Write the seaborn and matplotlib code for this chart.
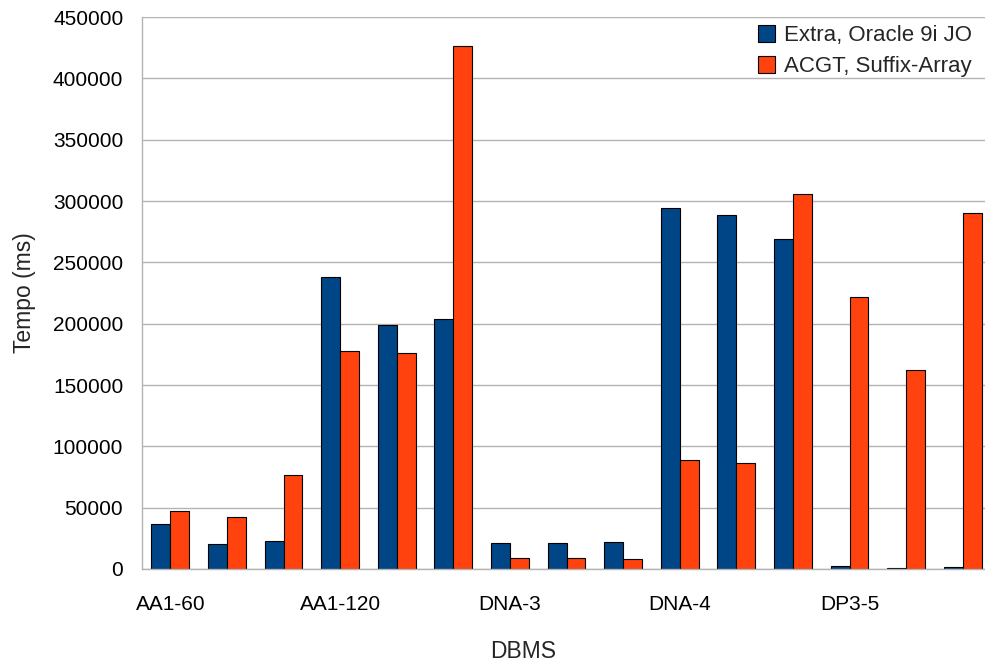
import matplotlib
matplotlib.use("Agg")
import matplotlib.pyplot as plt
import seaborn as sns
import pandas as pd

# Benchmark runs: five datasets, three runs each
group_labels = ["AA1-60", "AA1-120", "DNA-3", "DNA-4", "DP3-5"]
runs_per_group = 3
series_names = ["Extra, Oracle 9i JO", "ACGT, Suffix-Array"]
extra_oracle = [36700, 20600, 22800, 237800, 198700, 203800,
                21500, 21500, 21700, 294300, 288300, 269000,
                2200, 800, 1600]
acgt_suffix = [47500, 42100, 76600, 178000, 176300, 426400,
               8700, 8700, 8150, 89000, 86400, 305700,
               221700, 162000, 290200]
y_ticks = [0, 50000, 100000, 150000, 200000, 250000, 300000, 350000, 400000, 450000]

n_runs = len(extra_oracle)
df = pd.DataFrame({
    "run": list(range(n_runs)) * 2,
    "tempo": extra_oracle + acgt_suffix,
    "serie": [series_names[0]] * n_runs + [series_names[1]] * n_runs,
})

sns.set_theme(style="white")
plt.rcParams["font.family"] = ["Liberation Sans", "DejaVu Sans"]

W, H = 985, 669
fig = plt.figure(figsize=(W / 100, H / 100), dpi=100)
ax = fig.add_axes([142 / W, 1 - 569 / H, (991 - 142) / W, (569 - 17) / H])

grid_c = "#b3b3b3"
ax.set_axisbelow(True)
ax.yaxis.grid(True, color=grid_c, linewidth=1.0)

sns.barplot(data=df, x="run", y="tempo", hue="serie", hue_order=series_names,
            palette=["#004586", "#ff420e"], width=0.67, edgecolor="black",
            linewidth=0.8, ax=ax, saturation=1.0)

ax.set_xlim(-0.5, n_runs - 0.5)
ax.set_ylim(0, 450000)
ax.set_yticks(y_ticks)
ax.set_yticklabels([str(v) for v in y_ticks])

ax.set_xticks(range(n_runs))
xt = []
for i in range(n_runs):
    xt.append(group_labels[i // runs_per_group] if i % runs_per_group == 0 else "")
ax.set_xticklabels(xt)

ax.tick_params(axis="x", direction="out", length=8, width=1, color=grid_c,
               pad=11, labelsize=15, labelcolor="black")
ax.tick_params(axis="y", direction="out", length=6.5, width=1, color=grid_c,
               pad=7, labelsize=15, labelcolor="black")

for s in ["top", "right"]:
    ax.spines[s].set_visible(False)
for s in ["left", "bottom"]:
    ax.spines[s].set_color(grid_c)
    ax.spines[s].set_linewidth(1.0)

ax.set_ylabel("Tempo (ms)", fontsize=16.5)
ax.set_xlabel("DBMS", fontsize=16.5)
ax.yaxis.set_label_coords(-(142 - 25) / (991 - 142), 0.5, transform=ax.transAxes)
ax.yaxis.label.set_horizontalalignment("center")
ax.yaxis.label.set_verticalalignment("center")
ax.xaxis.set_label_coords((523 - 142) / (991 - 142), -(652 - 569) / (569 - 17), transform=ax.transAxes)
ax.xaxis.label.set_verticalalignment("center")

leg = ax.legend(loc="upper left", bbox_to_anchor=((746 - 142) / (991 - 142), 1.0 + 4 / 552),
                frameon=False, fontsize=16, handlelength=0.75, handleheight=0.75,
                handletextpad=0.4, labelspacing=0.45, borderaxespad=0.15)

fig.savefig("out.png", dpi=100)
